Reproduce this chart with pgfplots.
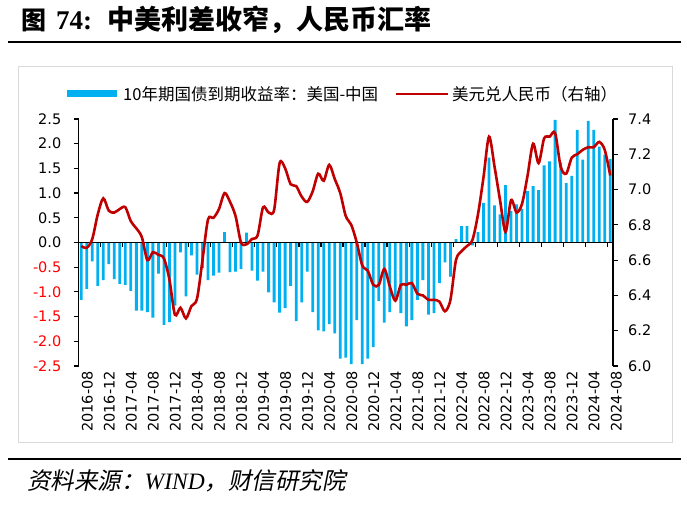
\documentclass[border=0pt]{standalone}
\usepackage{pgfplots}
\pgfplotsset{compat=1.18}
\usepackage{fontspec}
\setmainfont{DejaVu Sans}
\newfontfamily\cjk{Noto Sans CJK SC}
\newfontfamily\cjkit{Noto Sans CJK SC}[FakeSlant=0.2]
\newfontfamily\tnr{Liberation Serif}
\newfontfamily\numf{DejaVu Sans}
\definecolor{barblue}{RGB}{0,176,240}
\definecolor{linered}{RGB}{192,0,0}
\begin{document}
\begin{tikzpicture}[x=1pt,y=1pt]
\path[use as bounding box] (0,0) rectangle (687,505);
% title
\node[anchor=base west, inner sep=0] at (21,475) {\cjk\bfseries\fontsize{25}{25}\selectfont 图};
\node[anchor=base west, inner sep=0] at (56,475) {\tnr\bfseries\fontsize{27}{27}\selectfont 74:};
\node[anchor=base west, inner sep=0] at (107,475) {\cjk\bfseries\fontsize{27}{27}\selectfont 中美利差收窄，人民币汇率};
\draw[line width=2.6pt] (8,463) -- (681,463);
% frame
\draw[black!15, line width=0.9pt] (18,439) rectangle (672,63);
% bottom
\draw[line width=2.4pt] (8,46) -- (681,46);
\node[anchor=base west, inner sep=0] at (27,15) {\cjkit\fontsize{23.5}{23.5}\selectfont 资料来源：{\tnr\itshape WIND}，财信研究院};
% legend
\fill[barblue] (67,408) rectangle (117,415);
\node[anchor=west, inner sep=0] at (123,411) {\cjk\fontsize{16.5}{16.5}\selectfont 10年期国债到期收益率：美国-中国};
\draw[linered, line width=2.6pt] (396,411) -- (448,411);
\node[anchor=west, inner sep=0] at (452,411) {\cjk\fontsize{16.5}{16.5}\selectfont 美元兑人民币（右轴）};

\begin{axis}[
  at={(78.5pt,139pt)}, anchor=south west, scale only axis,
  width=534.5pt, height=247pt,
  xmin=-0.5, xmax=96.5, ymin=-2.5, ymax=2.5,
  enlargelimits=false,
  axis y line*=left, axis x line*=bottom,
  x axis line style={draw=none},
  y axis line style={line width=1.3pt, black},
  ytick={-2.5,-2,-1.5,-1,-0.5,0,0.5,1,1.5,2,2.5},
  yticklabels={{\color{red}-2.5},{\color{red}-2.0},{\color{red}-1.5},{\color{red}-1.0},{\color{red}-0.5},0.0,0.5,1.0,1.5,2.0,2.5},
  xtick={0,4,...,96},
  xticklabels={2016-08,2016-12,2017-04,2017-08,2017-12,2018-04,2018-08,2018-12,2019-04,2019-08,2019-12,2020-04,2020-08,2020-12,2021-04,2021-08,2021-12,2022-04,2022-08,2022-12,2023-04,2023-08,2023-12,2024-04,2024-08},
  major x tick style={draw=none},
  major y tick style={line width=1.2pt, black},
  tick align=outside, major tick length=5pt,
  xticklabel style={rotate=90, anchor=east, inner sep=0pt, yshift=-6pt, font=\numf\fontsize{14.5}{15}\selectfont},
  yticklabel style={anchor=east, inner sep=0pt, xshift=-12pt, font=\numf\fontsize{14.5}{15}\selectfont},
  clip=false,
]
\addplot[ybar, bar width=2.8pt, fill=barblue, draw=none] coordinates {
(0,-1.16)(1,-0.94)(2,-0.38)(3,-0.88)(4,-0.76)(5,-0.44)(6,-0.74)(7,-0.84)(8,-0.86)(9,-0.98)
(10,-1.38)(11,-1.38)(12,-1.41)(13,-1.52)(14,-0.63)(15,-1.67)(16,-1.61)(17,-1.28)(18,-0.20)(19,-1.09)
(20,-0.26)(21,-0.65)(22,-0.52)(23,-0.76)(24,-0.67)(25,-0.61)(26,0.21)(27,-0.60)(28,-0.59)(29,-0.54)
(30,0.20)(31,-0.57)(32,-0.77)(33,-0.59)(34,-1.01)(35,-1.21)(36,-1.42)(37,-1.33)(38,-0.88)(39,-1.59)
(40,-1.21)(41,-0.59)(42,-1.41)(43,-1.78)(44,-1.80)(45,-1.65)(46,-1.84)(47,-2.35)(48,-2.33)(49,-2.46)
(50,-1.57)(51,-2.46)(52,-2.35)(53,-2.12)(54,-1.18)(55,-1.62)(56,-1.41)(57,-1.16)(58,-1.43)(59,-1.70)
(60,-1.57)(61,-1.16)(62,-0.76)(63,-1.46)(64,-1.43)(65,-0.82)(66,-0.40)(67,-0.69)(68,0.07)(69,0.33)
(70,0.33)(71,-0.06)(72,0.21)(73,0.80)(74,1.72)(75,0.75)(76,0.57)(77,1.16)(78,0.64)(79,0.77)
(80,0.68)(81,1.04)(82,1.14)(83,1.06)(84,1.56)(85,1.64)(86,2.48)(87,1.62)(88,1.20)(89,1.35)
(90,2.28)(91,1.68)(92,2.46)(93,2.28)(94,1.94)(95,1.78)(96,1.69)
};
\draw[line width=1.3pt] (axis cs:-0.5,0) -- (axis cs:96.5,0);
\pgfplotsinvokeforeach{3.5,7.5,11.5,15.5,19.5,23.5,27.5,31.5,35.5,39.5,43.5,47.5,51.5,55.5,59.5,63.5,67.5,71.5,75.5,79.5,83.5,87.5,91.5,95.5}{\draw[line width=1.2pt] (axis cs:#1,0) -- (axis cs:#1,-0.09);}
\end{axis}

\begin{axis}[
  at={(78.5pt,139pt)}, anchor=south west, scale only axis,
  width=534.5pt, height=247pt,
  xmin=-0.5, xmax=96.5, ymin=6.0, ymax=7.4,
  enlargelimits=false,
  axis y line*=right, axis x line=none, xtick=\empty,
  y axis line style={line width=1.3pt, black},
  ytick={6.0,6.2,6.4,6.6,6.8,7.0,7.2,7.4},
  yticklabels={6.0,6.2,6.4,6.6,6.8,7.0,7.2,7.4},
  major y tick style={line width=1.2pt, black},
  tick align=outside, major tick length=5pt,
  yticklabel style={anchor=west, inner sep=0pt, xshift=10pt, font=\numf\fontsize{14.5}{15}\selectfont},
  clip=false,
]
\addplot[linered, line width=2.6pt, smooth, tension=0.5, no marks] coordinates {
(0,6.68)(1,6.67)(2,6.72)(3,6.86)(4,6.95)(5,6.88)(6,6.87)(7,6.89)(8,6.90)(9,6.82)
(10,6.78)(11,6.73)(12,6.60)(13,6.645)(14,6.63)(15,6.61)(16,6.49)(17,6.29)(18,6.33)(19,6.27)
(20,6.34)(21,6.38)(22,6.60)(23,6.83)(24,6.84)(25,6.89)(26,6.98)(27,6.93)(28,6.85)(29,6.70)
(30,6.69)(31,6.72)(32,6.74)(33,6.90)(34,6.87)(35,6.885)(36,7.15)(37,7.12)(38,7.03)(39,7.02)
(40,6.96)(41,6.93)(42,6.99)(43,7.09)(44,7.05)(45,7.14)(46,7.06)(47,6.98)(48,6.85)(49,6.80)
(50,6.70)(51,6.57)(52,6.54)(53,6.46)(54,6.46)(55,6.55)(56,6.45)(57,6.37)(58,6.46)(59,6.46)
(60,6.47)(61,6.41)(62,6.40)(63,6.375)(64,6.375)(65,6.365)(66,6.31)(67,6.375)(68,6.60)(69,6.65)
(70,6.68)(71,6.715)(72,6.86)(73,7.07)(74,7.30)(75,7.13)(76,6.94)(77,6.76)(78,6.94)(79,6.87)
(80,6.92)(81,7.08)(82,7.26)(83,7.15)(84,7.29)(85,7.30)(86,7.32)(87,7.13)(88,7.09)(89,7.18)
(90,7.20)(91,7.225)(92,7.24)(93,7.24)(94,7.27)(95,7.225)(96,7.08)
};
\end{axis}
\end{tikzpicture}
\end{document}
